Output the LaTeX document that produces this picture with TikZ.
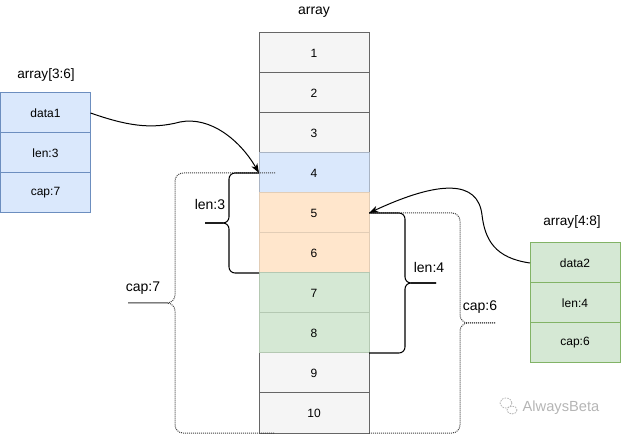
\documentclass[tikz,border=0pt]{standalone}
\usepackage{fontspec}
\setmainfont{Liberation Sans}
\usetikzlibrary{arrows.meta}
\definecolor{grayfill}{HTML}{F5F5F5}
\definecolor{graystroke}{HTML}{666666}
\definecolor{bluefill}{HTML}{DAE8FC}
\definecolor{bluestroke}{HTML}{6C8EBF}
\definecolor{bluelight}{HTML}{A9B4C4}
\definecolor{orangefill}{HTML}{FFE6CC}
\definecolor{orangelight}{HTML}{E2CDB6}
\definecolor{greenfill}{HTML}{D5E8D4}
\definecolor{greenstroke}{HTML}{82B366}
\definecolor{greenlight}{HTML}{B4C8B2}
\definecolor{wmark}{HTML}{B5B5B5}
\begin{document}
\begin{tikzpicture}[x=0.75pt,y=-0.75pt,
  cell/.style={draw=graystroke, fill=grayfill, minimum width=82.5pt, minimum height=30pt,
    inner sep=0pt, outer sep=0pt, line width=0.75pt, font=\fontsize{9}{11}\selectfont},
  field/.style={minimum width=67.5pt, minimum height=30pt, inner sep=0pt, outer sep=0pt,
    line width=0.75pt, font=\fontsize{9}{11}\selectfont},
  lbl/.style={inner sep=0pt, font=\fontsize{10.2}{12}\selectfont},
  blbl/.style={inner sep=0pt, font=\fontsize{10.5}{12}\selectfont},
  brace/.style={draw=black, line width=0.8pt, rounded corners=4.5pt},
  dbrace/.style={draw=black!75, line width=0.75pt, dash pattern=on 0.75pt off 0.75pt, rounded corners=6pt},
  conn/.style={draw=black, line width=0.75pt, -{Stealth[length=7pt,width=5pt,inset=2pt]}}
]
\useasboundingbox (0,0) rectangle (621,434);

% array cells
\node[blbl] (arr) at (314,12) {array};
\node[cell] (c1) at (314,53) {1};
\node[cell] (c2) at (314,93) {2};
\node[cell] (c3) at (314,133) {3};
\node[cell] (c9) at (314,373) {9};
\node[cell] (c10) at (314,413) {10};
\node[cell, fill=bluefill, draw=bluelight] (c4) at (314,173) {4};
\node[cell, fill=orangefill, draw=orangelight] (c5) at (314,213) {5};
\node[cell, fill=orangefill, draw=orangelight] (c6) at (314,253) {6};
\node[cell, fill=greenfill, draw=greenlight] (c7) at (314,293) {7};
\node[cell, fill=greenfill, draw=greenlight] (c8) at (314,333) {8};

% left slice struct
\node[lbl] (s1lbl) at (46,75) {array[3:6]};
\node[field, fill=bluefill, draw=bluestroke] (s1d) at (45.5,113) {data1};
\node[field, fill=bluefill, draw=bluestroke] (s1l) at (45.5,153) {len:3};
\node[field, fill=bluefill, draw=bluestroke] (s1c) at (45.5,193) {cap:7};

% right slice struct
\node[lbl] (s2lbl) at (572,222) {array[4:8]};
\node[field, fill=greenfill, draw=greenstroke] (s2d) at (575,263) {data2};
\node[field, fill=greenfill, draw=greenstroke] (s2l) at (575,303) {len:4};
\node[field, fill=greenfill, draw=greenstroke] (s2c) at (575,343) {cap:6};

% dotted cap braces
\coordinate (cap7top) at (275,173);
\coordinate (cap7bot) at (275,433);
\coordinate (cap7tip) at (128,303);
\draw[dbrace] (cap7top) -- (175,173) -- (175,303) -- (cap7tip);
\draw[dbrace] (cap7tip) -- (175,303) -- (175,433) -- (cap7bot);
\coordinate (cap6tip) at (495,323);
\coordinate (cap6bot) at (369,433);
\draw[dbrace] (c5.east) -- (460,213) -- (460,323) -- (cap6tip);
\draw[dbrace] (cap6tip) -- (460,323) -- (460,433) -- (cap6bot);

% len braces
\coordinate (len3tip) at (205,223);
\draw[brace] (c4.west) -- (229,173) -- (229,223) -- (len3tip);
\draw[brace] (len3tip) -- (229,223) -- (229,273) -- (c7.north west);
\coordinate (len4tip) at (436,283);
\draw[brace] (c5.east) -- (405,213) -- (405,283) -- (len4tip);
\draw[brace] (len4tip) -- (405,283) -- (405,353) -- (c8.south east);

% brace labels
\node[blbl] (len3lbl) at (210,204) {len:3};
\node[blbl] (cap7lbl) at (143,288) {cap:7};
\node[blbl] (len4lbl) at (429,267) {len:4};
\node[blbl] (cap6lbl) at (480,307) {cap:6};

% pointers
\draw[conn] (s1d.east) .. controls (125,125) and (150,130) .. (180,122)
  .. controls (210,116) and (240,140) .. (c4.west);
\draw[conn] (s2d.west) .. controls (495,258) and (485,240) .. (482,215)
  .. controls (478,180) and (440,180) .. (c5.east);

% watermark
\draw[wmark, line width=0.6pt, dash pattern=on 1.2pt off 0.8pt] (506,403) ellipse [x radius=6, y radius=5];
\draw[wmark, line width=0.6pt, dash pattern=on 1.2pt off 0.8pt] (512,410) ellipse [x radius=5, y radius=4];
\node[inner sep=0pt, text=wmark, font=\fontsize{11}{13}\selectfont] (wm) at (561,408) {AlwaysBeta};
\end{tikzpicture}
\end{document}
